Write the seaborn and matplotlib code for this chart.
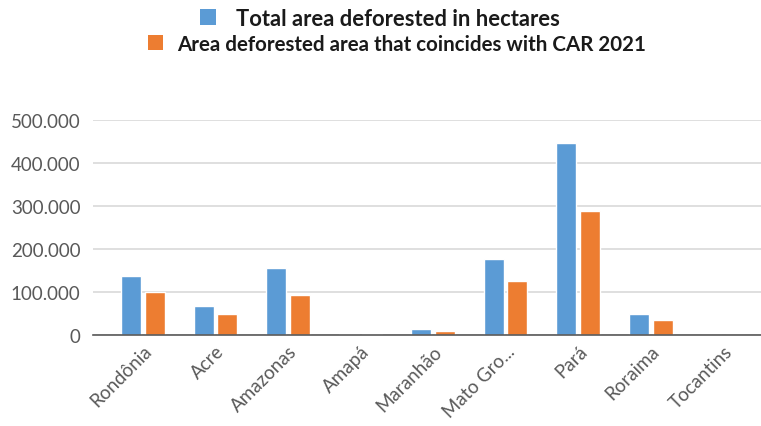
import matplotlib
matplotlib.use("Agg")
import matplotlib.pyplot as plt
import matplotlib.ticker as mticker
from matplotlib.patches import Patch
import pandas as pd
import seaborn as sns

# Deforested area per state of the Legal Amazon (hectares)
states = ["Rondônia", "Acre", "Amazonas", "Amapá", "Maranhão",
          "Mato Grosso", "Pará", "Roraima", "Tocantins"]
tick_labels = ["Rondônia", "Acre", "Amazonas", "Amapá", "Maranhão",
               "Mato Gro...", "Pará", "Roraima", "Tocantins"]
total_area = [137000, 68000, 155000, 2500, 14000, 176000, 447000, 50000, 0]
car_area = [101000, 50000, 93000, 1800, 10000, 126000, 288000, 35000, 0]
series_names = ["Total area deforested in hectares",
                "Area deforested area that coincides with CAR 2021"]
y_ticks = [0, 100000, 200000, 300000, 400000, 500000]

blue = "#5B9BD5"
orange = "#ED7D31"

df = pd.DataFrame({
    "state": states * 2,
    "area": total_area + car_area,
    "series": [series_names[0]] * len(states) + [series_names[1]] * len(states),
})

sns.set_theme(style="white")
plt.rcParams["font.family"] = ["Lato", "DejaVu Sans"]

fig = plt.figure(figsize=(7.61, 4.27), dpi=100)
W, H = 761, 427
ax = fig.add_axes([93 / W, 1 - 336 / H, (761 - 93) / W, (336 - 121) / H])

sns.barplot(data=df, x="state", y="area", hue="series",
            palette=[blue, orange], width=0.65, gap=0.15,
            saturation=1, legend=False, ax=ax)

ax.set_xlim(-0.69, 8.52)
ax.set_ylim(0, 500000)
ax.set_yticks(y_ticks)
ax.yaxis.set_major_formatter(
    mticker.FuncFormatter(lambda v, _: f"{v:,.0f}".replace(",", ".")))
ax.set_xticks(range(len(states)))
ax.set_xticklabels(tick_labels, rotation=45, ha="right",
                   rotation_mode="anchor")
ax.tick_params(axis="both", length=0, labelsize=13.5, labelcolor="#595959")
ax.tick_params(axis="y", pad=9)
ax.tick_params(axis="x", pad=5)
ax.set_xlabel("")
ax.set_ylabel("")

ax.grid(axis="y", color="#D9D9D9", linewidth=1.2)
ax.set_axisbelow(True)
for side in ["top", "right", "left"]:
    ax.spines[side].set_visible(False)
ax.spines["bottom"].set_color("#595959")
ax.spines["bottom"].set_linewidth(1.2)

# Legend: one row per series, each placed on its own line
legend_rows = [(series_names[0], blue, 200 / W, 1 - 19 / H, 0.92, 15.8),
               (series_names[1], orange, 148 / W, 1 - 45 / H, 0.68, 14.8)]
for name, color, x, y, pad, size in legend_rows:
    leg = fig.legend(handles=[Patch(facecolor=color, edgecolor="none")],
                     labels=[name], loc="center left", bbox_to_anchor=(x, y),
                     frameon=False, borderpad=0, borderaxespad=0,
                     handlelength=0.72, handleheight=0.72,
                     handletextpad=pad,
                     prop={"family": ["Lato", "DejaVu Sans"],
                           "weight": "bold", "size": size})
    for t in leg.get_texts():
        t.set_color("#1a1a1a")

fig.savefig("out.png", dpi=100)
